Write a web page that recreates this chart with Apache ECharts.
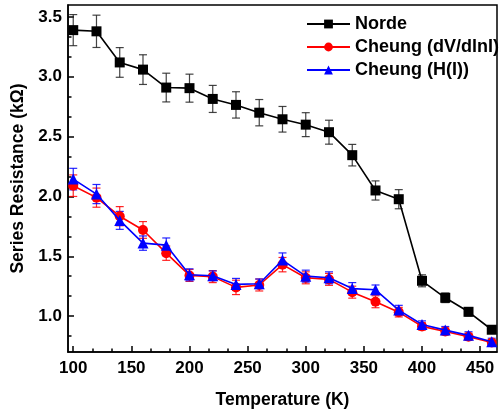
<!DOCTYPE html>
<html>
<head>
<meta charset="utf-8">
<script src="https://cdn.jsdelivr.net/npm/echarts@6/dist/echarts.min.js"></script>
<style>
  html, body { margin: 0; padding: 0; background: #fff; }
  #chart { width: 503px; height: 416px; }
</style>
</head>
<body>
<div id="chart"></div>
<script>
// data
var temps = [100, 120, 140, 160, 180, 200, 220, 240, 260, 280, 300, 320, 340, 360, 380, 400, 420, 440, 460];

var norde    = [3.39, 3.38, 3.12, 3.06, 2.91, 2.905, 2.815, 2.765, 2.70, 2.645, 2.60, 2.537, 2.345, 2.05, 1.977, 1.295, 1.153, 1.036, 0.886];
var nordeErr = [0.13, 0.135, 0.124, 0.124, 0.12, 0.117, 0.113, 0.11, 0.11, 0.107, 0.10, 0.10, 0.09, 0.08, 0.08, 0.05, 0.04, 0.035, 0.03];

var cheungDv    = [2.09, 1.99, 1.835, 1.72, 1.526, 1.34, 1.33, 1.24, 1.26, 1.43, 1.32, 1.307, 1.20, 1.12, 1.033, 0.914, 0.872, 0.827, 0.78];
var cheungDvErr = [0.09, 0.08, 0.08, 0.07, 0.06, 0.05, 0.05, 0.06, 0.05, 0.06, 0.05, 0.05, 0.05, 0.05, 0.04, 0.03, 0.03, 0.03, 0.02];

var cheungH    = [2.145, 2.02, 1.80, 1.61, 1.593, 1.345, 1.337, 1.265, 1.27, 1.468, 1.334, 1.32, 1.23, 1.22, 1.05, 0.93, 0.883, 0.839, 0.785];
var cheungHErr = [0.09, 0.08, 0.075, 0.06, 0.06, 0.05, 0.04, 0.05, 0.04, 0.06, 0.05, 0.05, 0.05, 0.04, 0.04, 0.03, 0.03, 0.03, 0.03];

var seriesNames = ['Norde', 'Cheung (dV/dlnI)', 'Cheung (H(I))'];

// ticks
var xMajor = [100, 150, 200, 250, 300, 350, 400, 450];
var xMinor = [116.667, 133.333, 166.667, 183.333, 216.667, 233.333, 266.667, 283.333,
              316.667, 333.333, 366.667, 383.333, 416.667, 433.333];
var yMajor = [1.0, 1.5, 2.0, 2.5, 3.0, 3.5];
var yMinor = [0.8333, 1.1667, 1.3333, 1.6667, 1.8333, 2.1667, 2.3333, 2.6667, 2.8333, 3.1667, 3.3333];

var FONT = '"Liberation Sans", Arial, sans-serif';

function pairs(ys) {
    return temps.map(function (t, i) { return [t, ys[i]]; });
}
function errPairs(ys, es) {
    return temps.map(function (t, i) { return [t, ys[i] - es[i], ys[i] + es[i]]; });
}

function errorSeries(ys, es, color, z) {
    return {
        type: 'custom',
        data: errPairs(ys, es),
        encode: { x: 0, y: [1, 2] },
        z: z,
        silent: true,
        renderItem: function (params, api) {
            var lo = api.coord([api.value(0), api.value(1)]);
            var hi = api.coord([api.value(0), api.value(2)]);
            var w = 4;
            var st = { stroke: color, lineWidth: 1.2, opacity: 0.85 };
            return {
                type: 'group',
                children: [
                    { type: 'line', shape: { x1: lo[0], y1: lo[1], x2: hi[0], y2: hi[1] }, style: st },
                    { type: 'line', shape: { x1: lo[0] - w, y1: lo[1], x2: lo[0] + w, y2: lo[1] }, style: st },
                    { type: 'line', shape: { x1: hi[0] - w, y1: hi[1], x2: hi[0] + w, y2: hi[1] }, style: st }
                ]
            };
        }
    };
}

function lineSeries(name, ys, color, symbol, size, z) {
    return {
        name: name,
        type: 'line',
        data: pairs(ys),
        symbol: symbol,
        symbolSize: size,
        z: z,
        lineStyle: { color: color, width: 1.6 },
        itemStyle: { color: color },
        emphasis: { disabled: true }
    };
}

var labelStyle = { fontFamily: FONT, fontWeight: 'bold', fontSize: 17, color: '#000' };
var titleStyle = { fontFamily: FONT, fontWeight: 'bold', fontSize: 17.5, color: '#000' };

var option = {
    animation: false,
    backgroundColor: '#fff',
    grid: {
        left: 68, right: 6, top: 5, bottom: 64,
        show: true, borderColor: '#000', borderWidth: 1.5
    },
    legend: {
        orient: 'vertical',
        left: 301, top: 10,
        itemWidth: 43, itemHeight: 11, itemGap: 5,
        data: seriesNames,
        textStyle: { fontFamily: FONT, fontWeight: 'bold', fontSize: 18, color: '#000', lineHeight: 17 }
    },
    xAxis: [{
        type: 'value', min: 95.5, max: 464.5,
        name: 'Temperature (K)', nameLocation: 'middle', nameGap: 39,
        nameTextStyle: titleStyle,
        axisLine: { lineStyle: { color: '#000', width: 1.5 } },
        axisTick: { inside: true, length: 6, customValues: xMajor, lineStyle: { color: '#000', width: 1.5 } },
        axisLabel: Object.assign({ customValues: xMajor, margin: 8 }, labelStyle),
        splitLine: { show: false }
    }, {
        type: 'value', min: 95.5, max: 464.5, position: 'bottom', offset: 0,
        axisLine: { show: false },
        axisTick: { inside: true, length: 3.5, customValues: xMinor, lineStyle: { color: '#000', width: 1.5 } },
        axisLabel: { show: false },
        splitLine: { show: false }
    }],
    yAxis: [{
        type: 'value', min: 0.7, max: 3.6,
        name: 'Series Resistance (k\u03a9)', nameLocation: 'middle', nameGap: 35,
        nameTextStyle: titleStyle,
        axisLine: { lineStyle: { color: '#000', width: 1.5 } },
        axisTick: { inside: true, length: 6, customValues: yMajor, lineStyle: { color: '#000', width: 1.5 } },
        axisLabel: Object.assign({
            customValues: yMajor, margin: 6,
            formatter: function (v) { return v.toFixed(1); }
        }, labelStyle),
        splitLine: { show: false }
    }, {
        type: 'value', min: 0.7, max: 3.6, position: 'left', offset: 0,
        axisLine: { show: false },
        axisTick: { inside: true, length: 3.5, customValues: yMinor, lineStyle: { color: '#000', width: 1.5 } },
        axisLabel: { show: false },
        splitLine: { show: false }
    }],
    series: [
        errorSeries(norde, nordeErr, '#222', 2),
        errorSeries(cheungDv, cheungDvErr, '#ff0000', 2),
        errorSeries(cheungH, cheungHErr, '#0000ff', 2),
        lineSeries(seriesNames[0], norde, '#000000', 'rect', 10, 3),
        lineSeries(seriesNames[1], cheungDv, '#ff0000', 'circle', 10, 4),
        lineSeries(seriesNames[2], cheungH, '#0000ff', 'triangle', 11, 5)
    ]
};

var myChart = echarts.init(document.getElementById('chart'));
myChart.setOption(option);
</script>
</body>
</html>
